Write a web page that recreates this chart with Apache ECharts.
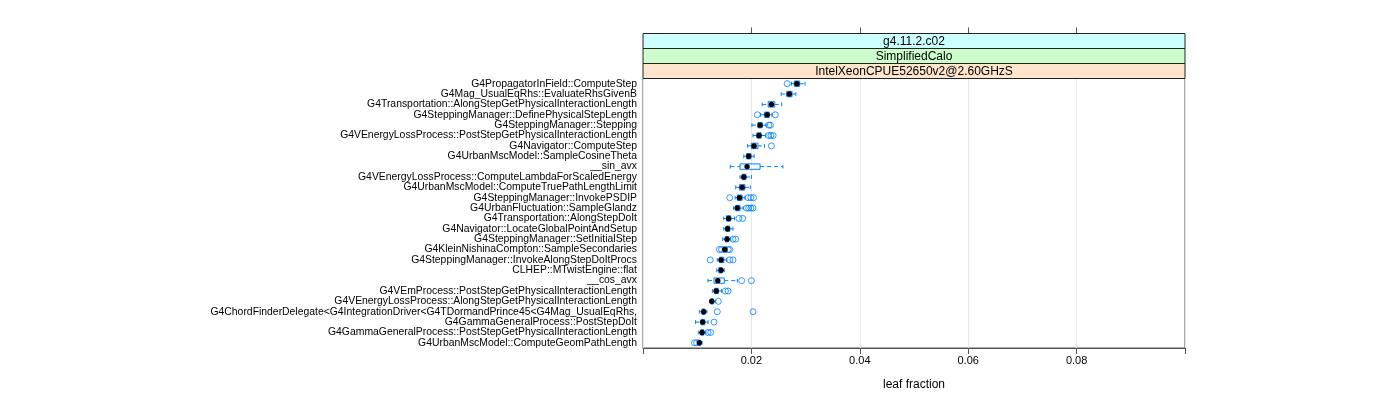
<!DOCTYPE html>
<html>
<head>
<meta charset="utf-8">
<script src="https://cdn.jsdelivr.net/npm/echarts@6/dist/echarts.min.js"></script>
<style>
html,body{margin:0;padding:0;background:#fff;}
#chart{width:1400px;height:400px;}
</style>
</head>
<body>
<div id="chart"></div>
<script>
// ---- data ----
const categories = [
  "G4PropagatorInField::ComputeStep",
  "G4Mag_UsualEqRhs::EvaluateRhsGivenB",
  "G4Transportation::AlongStepGetPhysicalInteractionLength",
  "G4SteppingManager::DefinePhysicalStepLength",
  "G4SteppingManager::Stepping",
  "G4VEnergyLossProcess::PostStepGetPhysicalInteractionLength",
  "G4Navigator::ComputeStep",
  "G4UrbanMscModel::SampleCosineTheta",
  "__sin_avx",
  "G4VEnergyLossProcess::ComputeLambdaForScaledEnergy",
  "G4UrbanMscModel::ComputeTruePathLengthLimit",
  "G4SteppingManager::InvokePSDIP",
  "G4UrbanFluctuation::SampleGlandz",
  "G4Transportation::AlongStepDoIt",
  "G4Navigator::LocateGlobalPointAndSetup",
  "G4SteppingManager::SetInitialStep",
  "G4KleinNishinaCompton::SampleSecondaries",
  "G4SteppingManager::InvokeAlongStepDoItProcs",
  "CLHEP::MTwistEngine::flat",
  "__cos_avx",
  "G4VEmProcess::PostStepGetPhysicalInteractionLength",
  "G4VEnergyLossProcess::AlongStepGetPhysicalInteractionLength",
  "G4ChordFinderDelegate<G4IntegrationDriver<G4TDormandPrince45<G4Mag_UsualEqRhs,",
  "G4GammaGeneralProcess::PostStepDoIt",
  "G4GammaGeneralProcess::PostStepGetPhysicalInteractionLength",
  "G4UrbanMscModel::ComputeGeomPathLength"
];
const lowerWhisker = [0.0274,0.0255,0.0220,0.0217,0.0201,0.0203,0.0193,0.0186,0.0161,0.0179,0.0171,0.0170,0.0167,0.0149,0.0149,0.0147,0.0147,0.0137,0.0136,0.0120,0.0128,0.0123,0.0104,0.0097,0.0102,0.0101];
const q1           = [0.0279,0.0265,0.0231,0.0224,0.0212,0.0210,0.0200,0.0191,0.0179,0.0183,0.0178,0.0174,0.0171,0.0154,0.0153,0.0152,0.0148,0.0141,0.0140,0.0131,0.0132,0.0125,0.0109,0.0107,0.0106,0.0102];
const median       = [0.0284,0.0270,0.0237,0.0229,0.0216,0.0214,0.0205,0.0195,0.0192,0.0186,0.0183,0.0178,0.0174,0.0158,0.0156,0.0155,0.0151,0.0144,0.0144,0.0138,0.0135,0.0127,0.0112,0.0110,0.0109,0.0104];
const q3           = [0.0289,0.0275,0.0243,0.0233,0.0220,0.0218,0.0212,0.0199,0.0216,0.0190,0.0188,0.0183,0.0179,0.0162,0.0160,0.0158,0.0154,0.0149,0.0146,0.0150,0.0139,0.0130,0.0114,0.0114,0.0112,0.0106];
const upperWhisker = [0.0299,0.0282,0.0256,0.0238,0.0227,0.0226,0.0224,0.0205,0.0258,0.0200,0.0198,0.0188,0.0185,0.0169,0.0166,0.0162,0.0155,0.0154,0.0150,0.0174,0.0145,0.0134,0.0118,0.0120,0.0116,0.0109];
const outliers = [
  [0.0266], [], [], [0.0211,0.0244], [0.0232,0.0235], [0.0232,0.0236,0.0240], [0.0237], [], [], [], [],
  [0.0160,0.0194,0.0199,0.0204], [0.0191,0.0195,0.0199,0.0203], [0.0177,0.0184], [], [0.0166,0.0171],
  [0.0141,0.0145,0.0157,0.0160], [0.0124,0.0160,0.0166], [], [0.0182,0.0200], [0.0152,0.0157], [0.0139],
  [0.0137,0.0203], [0.0131], [0.0120,0.0125], [0.0095,0.0099]
];
const xTicks = [0.02, 0.04, 0.06, 0.08];
const stripLabels = ["g4.11.2.c02", "SimplifiedCalo", "IntelXeonCPUE52650v2@2.60GHzS"];
const xTitle = "leaf fraction";

// ---- build ----
const boxData = categories.map((c, i) => [lowerWhisker[i], q1[i], median[i], q3[i], upperWhisker[i], i]);
const outData = [];
outliers.forEach((arr, i) => arr.forEach(v => outData.push([v, i])));

const FONT = "'Liberation Sans', Arial, Helvetica, sans-serif";
const BLUE = '#0080ff';
const G = {left: 643, top: 78.5, width: 542, height: 269.5};
const stripColors = ['#ccffff', '#ccffcc', '#ffe5cc'];
const stripH = 15;
const stripTop = G.top - 3 * stripH;

const graphics = [];
stripLabels.forEach((t, k) => {
  const y = stripTop + k * stripH;
  graphics.push({type: 'rect', z: 10, shape: {x: G.left, y: y, width: G.width, height: stripH},
    style: {fill: stripColors[k], stroke: '#222', lineWidth: 1}});
  graphics.push({type: 'text', z: 11, x: G.left + G.width / 2, y: y + stripH / 2 + 0.5,
    style: {text: t, textAlign: 'center', textVerticalAlign: 'middle', font: '12px ' + FONT, fill: '#000'}});
});

const chart = echarts.init(document.getElementById('chart'), null, {renderer: 'canvas'});
chart.setOption({
  backgroundColor: '#fff',
  animation: false,
  grid: {left: G.left, top: G.top, width: G.width, height: G.height, show: true,
         borderColor: '#555', borderWidth: 1, backgroundColor: 'transparent'},
  xAxis: [{
    type: 'value', min: 0, max: 0.1, interval: 0.02, position: 'bottom',
    name: xTitle, nameLocation: 'middle', nameGap: 31,
    nameTextStyle: {fontFamily: FONT, fontSize: 12, color: '#000'},
    axisLine: {show: true, lineStyle: {color: '#555', width: 1}},
    axisTick: {show: true, length: 6, inside: false, lineStyle: {color: '#555'}},
    axisLabel: {fontFamily: FONT, fontSize: 11, color: '#000', margin: 7,
      formatter: v => (v > 0.001 && v < 0.099) ? v.toFixed(2) : ''},
    splitLine: {show: true, lineStyle: {color: '#e6e6e6', width: 1}}
  }, {
    type: 'value', min: 0, max: 0.1, position: 'top', offset: 3 * stripH,
    axisLine: {show: false},
    axisTick: {show: true, length: 6, customValues: xTicks, lineStyle: {color: '#555'}},
    axisLabel: {show: false},
    splitLine: {show: false}
  }],
  yAxis: {
    type: 'category', data: categories, inverse: true,
    axisLine: {show: false}, axisTick: {show: false}, splitLine: {show: false},
    axisLabel: {fontFamily: FONT, fontSize: 10.4, color: '#000', margin: 6, interval: 0}
  },
  graphic: graphics,
  series: [{
    type: 'custom',
    data: boxData,
    encode: {x: [0, 1, 2, 3, 4], y: 5},
    z: 3,
    renderItem: function (params, api) {
      const ci = api.value(5);
      const pLw = api.coord([api.value(0), ci]);
      const pQ1 = api.coord([api.value(1), ci]);
      const pMd = api.coord([api.value(2), ci]);
      const pQ3 = api.coord([api.value(3), ci]);
      const pUw = api.coord([api.value(4), ci]);
      const band = api.size([0, 1])[1];
      const bh = band * 0.52;
      const ch = bh * 0.7;
      const y = pMd[1];
      const dashed = {stroke: BLUE, lineWidth: 1, lineDash: [4, 3], fill: null};
      const solid = {stroke: BLUE, lineWidth: 1, fill: null};
      return {type: 'group', children: [
        {type: 'line', shape: {x1: pLw[0], y1: y, x2: pQ1[0], y2: y}, style: dashed},
        {type: 'line', shape: {x1: pQ3[0], y1: y, x2: pUw[0], y2: y}, style: dashed},
        {type: 'line', shape: {x1: pLw[0], y1: y - ch / 2, x2: pLw[0], y2: y + ch / 2}, style: solid},
        {type: 'line', shape: {x1: pUw[0], y1: y - ch / 2, x2: pUw[0], y2: y + ch / 2}, style: solid},
        {type: 'rect', shape: {x: pQ1[0], y: y - bh / 2, width: pQ3[0] - pQ1[0], height: bh}, style: solid},
        {type: 'circle', shape: {cx: pMd[0], cy: y, r: 2.7}, style: {fill: '#000', stroke: null}}
      ]};
    }
  }, {
    type: 'scatter',
    data: outData,
    symbol: 'circle',
    symbolSize: 6,
    z: 2,
    itemStyle: {color: 'transparent', borderColor: BLUE, borderWidth: 1}
  }]
});
</script>
</body>
</html>
